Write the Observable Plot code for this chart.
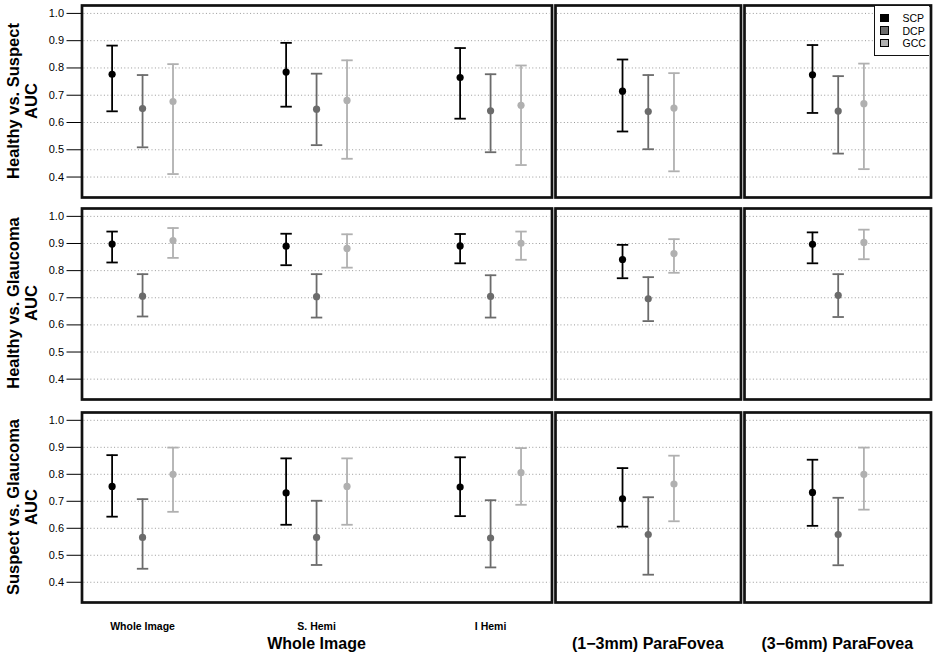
<!DOCTYPE html>
<html><head><meta charset="utf-8">
<script src="https://cdn.jsdelivr.net/npm/d3@7"></script>
<script src="https://cdn.jsdelivr.net/npm/@observablehq/plot@0.6"></script>
<style>
html,body{margin:0;padding:0;background:#fff;}
#chart{position:relative;width:936px;height:665px;font-family:"Liberation Sans",Arial,Helvetica,sans-serif;color:#000;overflow:hidden;background:#fff;}
#chart svg{position:absolute;}
.ytitle{position:absolute;width:240px;height:36px;text-align:center;font-weight:bold;font-size:16.5px;line-height:18px;transform:rotate(-90deg);white-space:pre;}
.region{position:absolute;font-weight:bold;font-size:16px;line-height:16px;transform:translateX(-50%);white-space:nowrap;}
.legend{position:absolute;box-sizing:border-box;background:#fff;border-left:1.5px solid #111;border-bottom:1.5px solid #111;padding-top:6.2px;z-index:5;}
.legend .row{display:flex;align-items:center;height:12.5px;font-size:10.5px;}
.legend .sw{box-sizing:border-box;width:9px;height:8.5px;border:1px solid #000;margin-left:5px;margin-right:14px;}
</style></head><body><div id="chart"></div><script>
// ---- data ----
const layers = ["SCP", "DCP", "GCC"];
const layerColors = ["#000000", "#6b6b6b", "#b0b0b0"];
const comparisons = ["Healthy vs. Suspect", "Healthy vs. Glaucoma", "Suspect vs. Glaucoma"];
const columns = ["Whole Image", "S. Hemi", "I Hemi", "(1\u22123mm) ParaFovea", "(3\u22126mm) ParaFovea"];
const regions = ["Whole Image", "(1\u22123mm) ParaFovea", "(3\u22126mm) ParaFovea"];
const regionColumns = [[0, 1, 2], [3], [4]];
const yTicks = [0.4, 0.5, 0.6, 0.7, 0.8, 0.9, 1.0];

// rows: SCP, DCP, GCC ; columns: Whole, S.Hemi, I Hemi, 1-3mm, 3-6mm
const hsAUC   = [[0.777, 0.785, 0.765, 0.715, 0.775], [0.651, 0.649, 0.643, 0.640, 0.642], [0.677, 0.681, 0.663, 0.653, 0.669]];
const hsLower = [[0.641, 0.658, 0.614, 0.567, 0.635], [0.509, 0.517, 0.491, 0.502, 0.486], [0.411, 0.467, 0.444, 0.421, 0.429]];
const hsUpper = [[0.882, 0.892, 0.873, 0.831, 0.884], [0.774, 0.779, 0.777, 0.774, 0.770], [0.814, 0.828, 0.809, 0.781, 0.816]];

const hgAUC   = [[0.898, 0.890, 0.891, 0.841, 0.897], [0.706, 0.704, 0.705, 0.696, 0.709], [0.911, 0.882, 0.901, 0.863, 0.904]];
const hgLower = [[0.830, 0.820, 0.827, 0.772, 0.827], [0.631, 0.627, 0.627, 0.614, 0.629], [0.847, 0.811, 0.840, 0.792, 0.842]];
const hgUpper = [[0.944, 0.936, 0.935, 0.895, 0.941], [0.787, 0.787, 0.783, 0.776, 0.787], [0.957, 0.934, 0.944, 0.916, 0.951]];

const sgAUC   = [[0.755, 0.731, 0.753, 0.709, 0.733], [0.566, 0.566, 0.564, 0.577, 0.577], [0.800, 0.755, 0.806, 0.764, 0.800]];
const sgLower = [[0.643, 0.613, 0.645, 0.606, 0.609], [0.450, 0.464, 0.455, 0.428, 0.463], [0.661, 0.613, 0.687, 0.626, 0.669]];
const sgUpper = [[0.871, 0.859, 0.863, 0.823, 0.854], [0.708, 0.702, 0.704, 0.715, 0.713], [0.899, 0.859, 0.897, 0.869, 0.899]];

const statsByComparison = [[hsAUC, hsLower, hsUpper], [hgAUC, hgLower, hgUpper], [sgAUC, sgLower, sgUpper]];

// ---- layout ----
const boxX = [[81.5, 551.5], [555, 740.5], [744, 930.5]];
const boxY = [[4.5, 196.5], [207.5, 398.5], [412, 602]];
const xDomains = [[0.652, 3.353], [0.369, 1.631], [0.362, 1.632]];
const yDomain = [0.325, 1.029];
const offsets = [-0.175, 0, 0.175];
const font = '"Liberation Sans", Arial, Helvetica, sans-serif';
const cap = {draw(ctx, size) { const w = Math.sqrt(size / Math.PI); ctx.moveTo(-w, 0); ctx.lineTo(w, 0); }};

const chart = document.getElementById("chart");

function buildPanel(ri, pi) {
  const [x0, x1] = boxX[pi];
  const [y0, y1] = boxY[ri];
  const isLeft = pi === 0, isBottom = ri === 2;
  const pad = 3;
  const mL = isLeft ? x0 : pad;
  const left = isLeft ? 0 : x0 - pad;
  const mB = (isLeft && isBottom) ? 40 : pad;
  const width = mL + (x1 - x0) + pad;
  const height = pad + (y1 - y0) + mB;
  const [A, L, U] = statsByComparison[ri];
  const data = [];
  regionColumns[pi].forEach((c, gi) => layers.forEach((layer, li) => data.push({
    layer, x: gi + 1 + offsets[li], auc: A[li][c], lo: L[li][c], hi: U[li][c]
  })));
  const marks = [
    Plot.gridY(yTicks, {stroke: "#9a9a9a", strokeOpacity: 1, strokeDasharray: "1,2.4", insetLeft: 2, insetRight: 2}),
    Plot.ruleX(data, {x: "x", y1: "lo", y2: "hi", stroke: "layer", strokeWidth: 1.8}),
    Plot.dot(data, {x: "x", y: "lo", symbol: cap, r: 5.7, stroke: "layer", fill: "none", strokeWidth: 1.8}),
    Plot.dot(data, {x: "x", y: "hi", symbol: cap, r: 5.7, stroke: "layer", fill: "none", strokeWidth: 1.8}),
    Plot.dot(data, {x: "x", y: "auc", r: 3.6, fill: "layer", stroke: "none"}),
    Plot.frame({stroke: "#111", strokeWidth: 2.7})
  ];
  if (isLeft) marks.push(Plot.axisY({ticks: yTicks, tickFormat: d3.format(".1f"), tickSize: 15, tickPadding: 3, fontSize: 11, label: null}));
  if (isLeft && isBottom) marks.push(Plot.axisX({ticks: [1, 2, 3], tickFormat: i => columns[regionColumns[0][i - 1]], tickSize: 0, tickPadding: 20, fontSize: 10.5, fontWeight: "bold", label: null}));
  const xOpt = {domain: xDomains[pi]};
  if (!(isLeft && isBottom)) xOpt.axis = null;
  const yOpt = {domain: yDomain};
  if (!isLeft) yOpt.axis = null;
  const svg = Plot.plot({
    width, height, marginLeft: mL, marginRight: pad, marginTop: pad, marginBottom: mB,
    x: xOpt, y: yOpt,
    color: {domain: layers, range: layerColors},
    style: {background: "transparent", fontFamily: font, fontSize: "11px", overflow: "visible", color: "#000"},
    marks
  });
  svg.style.position = "absolute";
  svg.style.left = left + "px";
  svg.style.top = (y0 - pad) + "px";
  svg.style.maxWidth = "none";
  chart.appendChild(svg);
}

for (let ri = 0; ri < 3; ri++) for (let pi = 0; pi < 3; pi++) buildPanel(ri, pi);

// row titles
comparisons.forEach((c, ri) => {
  const d = document.createElement("div");
  d.className = "ytitle";
  d.textContent = c + "\nAUC";
  const cy = (boxY[ri][0] + boxY[ri][1]) / 2;
  d.style.left = (22 - 120) + "px";
  d.style.top = (cy - 18) + "px";
  chart.appendChild(d);
});

// region labels
regions.forEach((r, pi) => {
  const d = document.createElement("div");
  d.className = "region";
  d.textContent = r;
  d.style.left = ((boxX[pi][0] + boxX[pi][1]) / 2) + "px";
  d.style.top = "636px";
  chart.appendChild(d);
});

// legend
const lg = document.createElement("div");
lg.className = "legend";
lg.style.left = "873.5px";
lg.style.top = "5.8px";
lg.style.width = (929.2 - 873.5) + "px";
lg.style.height = (56 - 5.8) + "px";
layers.forEach((l, i) => {
  const row = document.createElement("div");
  row.className = "row";
  const sw = document.createElement("div");
  sw.className = "sw";
  sw.style.background = layerColors[i];
  const t = document.createElement("span");
  t.textContent = l;
  row.appendChild(sw); row.appendChild(t);
  lg.appendChild(row);
});
chart.appendChild(lg);
</script></body></html>
